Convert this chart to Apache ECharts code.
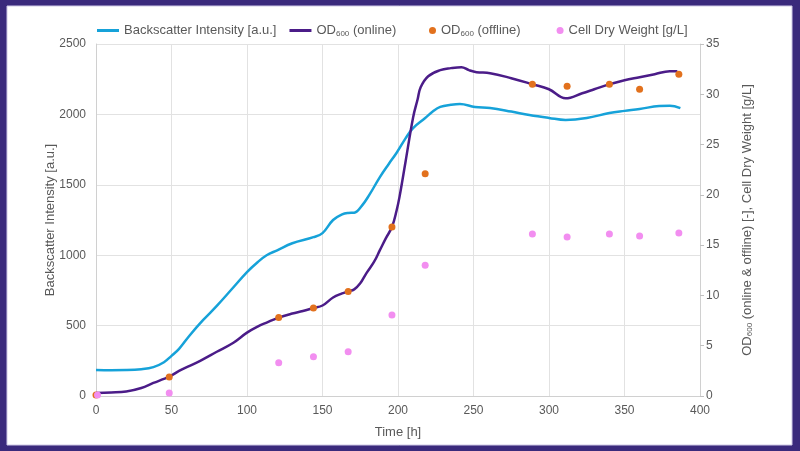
<!DOCTYPE html>
<html>
<head>
<meta charset="utf-8">
<script src="https://cdn.jsdelivr.net/npm/echarts@6/dist/echarts.min.js"></script>
<style>
html,body{margin:0;padding:0;background:#3a2a7c;}
#c{width:800px;height:451px;}
</style>
</head>
<body>
<div id="c"></div>
<script>
// ---- data ----
const bsTime = [0,10,20,30,38,45,50,55,62,71,80,90,100,107,113,120,130,144,150,157,163,167,171,176,181,188,194,199,205,210,218,223,228,235,241,251,261,275,287,300,311,325,340,350,360,373,380,387];
const bsValues = [185,183,184,190,205,240,285,335,430,540,640,760,880,950,1000,1035,1085,1128,1157,1250,1290,1300,1302,1350,1428,1555,1650,1726,1830,1903,1974,2020,2053,2068,2074,2053,2045,2020,1996,1975,1960,1974,2010,2025,2038,2060,2062,2045];

const odTime = [0,10,20,30,38,45,49,55,62,69,80,91,100,107,113,121,130,137,144,150,157,163,167,171,175,179,184,188,192,196,199,201,205,210,213,215,220,228,235,242,247,252,261,275,289,300,311,322,330,340,350,360,370,380,385];
const odValues = [0.3,0.35,0.45,0.8,1.3,1.7,1.95,2.5,3.0,3.5,4.4,5.3,6.3,6.9,7.3,7.8,8.2,8.45,8.75,9.0,9.8,10.2,10.4,10.6,11.2,12.2,13.3,14.5,15.7,16.8,18.4,19.8,23.3,27.7,29.5,30.7,31.8,32.4,32.6,32.7,32.4,32.2,32.1,31.6,31.0,30.5,29.6,30.1,30.5,31.0,31.4,31.7,32.0,32.3,32.3];

const offTime = [0,48.5,121,144,167,196,218,289,312,340,360,386];
const offValues = [0.1,1.9,7.8,8.75,10.4,16.8,22.1,31.0,30.8,31.0,30.5,32.0];

const cdwTime = [1,48.5,121,144,167,196,218,289,312,340,360,386];
const cdwValues = [0.1,0.3,3.3,3.9,4.4,8.05,13.0,16.1,15.8,16.1,15.9,16.2];

const xTicks = [0,50,100,150,200,250,300,350,400];

const names = {
  bs: 'Backscatter Intensity [a.u.]',
  od: 'OD600 (online)',
  off: 'OD600 (offline)',
  cdw: 'Cell Dry Weight [g/L]'
};

const zip = (a,b) => a.map((v,i)=>[v,b[i]]);
const FONT = "'Liberation Sans', Arial, sans-serif";
const TXT = '#595959';
const rich = {
  t: {fontSize: 13, color: TXT, fontFamily: FONT},
  s: {fontSize: 8, color: TXT, fontFamily: FONT, padding: [6,0,0,0]}
};
function fmt(name){
  if (name.startsWith('OD600')) return '{t|OD}{s|600}{t|' + name.slice(5) + '}';
  return '{t|' + name + '}';
}

const chart = echarts.init(document.getElementById('c'), null, {renderer:'canvas'});
chart.setOption({
  backgroundColor: '#3a2a7c',
  animation: false,
  graphic: [{
    type: 'rect', z: -10, silent: true,
    shape: {x: 7, y: 6, width: 785, height: 439},
    style: {fill: '#ffffff', stroke: '#cfc9e6', lineWidth: 1}
  }],
  textStyle: {fontFamily: FONT},
  legend: [{
    left: 92, top: 19, itemGap: 13,
    itemWidth: 22, itemHeight: 3, icon: 'rect',
    data: [names.bs, names.od],
    formatter: fmt,
    textStyle: {rich: rich}
  },{
    left: 424, top: 19, itemGap: 36,
    itemWidth: 7, itemHeight: 7, icon: 'circle',
    data: [names.off, names.cdw],
    formatter: fmt,
    textStyle: {rich: rich}
  }],
  grid: {left: 96, right: 100, top: 44, bottom: 55},
  xAxis: {
    type: 'value', min: 0, max: 400, interval: 50,
    name: 'Time [h]', nameLocation: 'middle', nameGap: 30,
    nameTextStyle: {color: TXT, fontSize: 13, fontFamily: FONT},
    axisLine: {show: true, lineStyle: {color: '#d0d0d0'}},
    axisTick: {show: false},
    axisLabel: {color: TXT, fontSize: 12, fontFamily: FONT, margin: 9,
      formatter: v => xTicks.includes(v) ? String(v) : ''},
    splitLine: {show: true, lineStyle: {color: '#e2e2e2'}}
  },
  yAxis: [{
    type: 'value', min: 0, max: 2500, interval: 500, position: 'left',
    name: names.bs, nameLocation: 'middle', nameGap: 39, nameRotate: 90,
    nameMoveOverlap: false,
    nameTextStyle: {color: TXT, fontSize: 13, fontFamily: FONT},
    axisLine: {show: true, lineStyle: {color: '#d0d0d0'}},
    axisTick: {show: false},
    axisLabel: {color: TXT, fontSize: 12, fontFamily: FONT, margin: 10, formatter: v => String(v)},
    splitLine: {show: true, lineStyle: {color: '#e2e2e2'}}
  },{
    type: 'value', min: 0, max: 35, interval: 5, position: 'right',
    name: '{t|OD}{s|600}{t| (online & offline) [-], Cell Dry Weight [g/L]}',
    nameLocation: 'middle', nameGap: 40, nameRotate: 90,
    nameTextStyle: {rich: rich},
    axisLine: {show: true, lineStyle: {color: '#d0d0d0'}},
    axisTick: {show: true, length: 4, lineStyle: {color: '#c0c0c0'}},
    axisLabel: {color: TXT, fontSize: 12, fontFamily: FONT, margin: 6, formatter: v => String(v)},
    splitLine: {show: false}
  }],
  series: [{
    name: names.bs, type: 'line', yAxisIndex: 0, smooth: 0.4,
    showSymbol: false, symbol: 'none',
    lineStyle: {color: '#16a2d9', width: 2.5},
    itemStyle: {color: '#16a2d9'},
    data: zip(bsTime, bsValues), z: 2
  },{
    name: names.od, type: 'line', yAxisIndex: 1, smooth: 0.4,
    showSymbol: false, symbol: 'none',
    lineStyle: {color: '#4b1c88', width: 2.5},
    itemStyle: {color: '#4b1c88'},
    data: zip(odTime, odValues), z: 3
  },{
    name: names.off, type: 'scatter', yAxisIndex: 1, symbolSize: 7,
    itemStyle: {color: '#e2711d', opacity: 1},
    data: zip(offTime, offValues), z: 4
  },{
    name: names.cdw, type: 'scatter', yAxisIndex: 1, symbolSize: 7,
    itemStyle: {color: '#f28ef0', opacity: 1},
    data: zip(cdwTime, cdwValues), z: 5
  }]
});
</script>
</body>
</html>
